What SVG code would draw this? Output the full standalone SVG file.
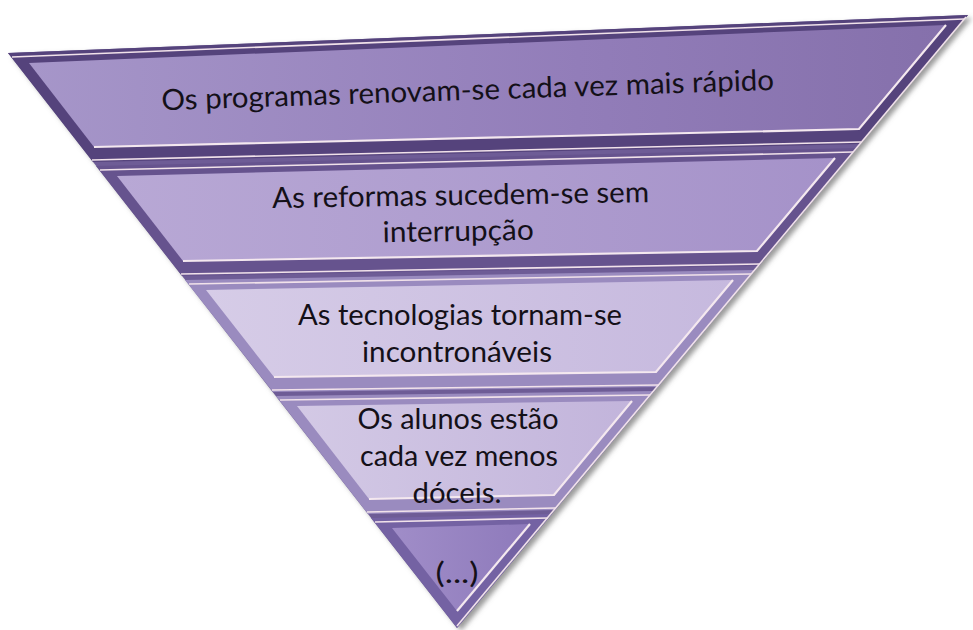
<svg xmlns="http://www.w3.org/2000/svg" width="973" height="630" viewBox="0 0 973 630">
<style>
  .lbl { font-family: Lato, "Open Sans", "Liberation Sans", sans-serif; font-size: 29px; fill: #141018; text-anchor: middle; }
  .hl { fill: none; stroke: #f4e8ef; stroke-width: 2.2; stroke-linejoin: miter; }
  .hlt { fill: none; stroke: #f1e2ea; stroke-width: 1.6; }
</style>
<defs>
  <filter id="shadow" x="-5%" y="-5%" width="115%" height="115%">
    <feDropShadow dx="4" dy="3" stdDeviation="2.5" flood-color="#6f6f6f" flood-opacity="0.7"/>
  </filter>
  <linearGradient id="f1" x1="0" y1="0" x2="1" y2="0">
    <stop offset="0" stop-color="#a696c9"/>
    <stop offset="0.6" stop-color="#927db9"/>
    <stop offset="1" stop-color="#8570ab"/>
  </linearGradient>
  <linearGradient id="f2" x1="0" y1="0" x2="1" y2="0">
    <stop offset="0" stop-color="#b8a8d5"/>
    <stop offset="1" stop-color="#a592c9"/>
  </linearGradient>
  <linearGradient id="f3" x1="0" y1="0" x2="1" y2="0">
    <stop offset="0" stop-color="#d6cce7"/>
    <stop offset="1" stop-color="#c6b9de"/>
  </linearGradient>
  <linearGradient id="f4" x1="0" y1="0" x2="1" y2="0">
    <stop offset="0" stop-color="#d3c9e5"/>
    <stop offset="1" stop-color="#c2b4db"/>
  </linearGradient>
  <linearGradient id="f5" x1="0" y1="0" x2="1" y2="0">
    <stop offset="0" stop-color="#a08dc8"/>
    <stop offset="1" stop-color="#8e7abb"/>
  </linearGradient>
</defs>

<g id="pyramid-base" filter="url(#shadow)">
  <polygon points="8,53 968,15 457,628" fill="#6e5c96"/>
</g>

<g id="band1">
  <polygon points="8,53 968,15 860,144 93,162" fill="#55437c"/>
  <polyline class="hlt" points="12,57 964,19"/>
  <polygon points="29,63 946,25 859,129 94,147" fill="url(#f1)"/>
  <polyline class="hl" points="94,147 859,129 946,25"/>
  <polyline class="hlt" points="92,160 861,142"/>
  <text class="lbl" x="468" y="100" textLength="613" lengthAdjust="spacingAndGlyphs" transform="rotate(-1.9 468 100)">Os programas renovam-se cada vez mais rápido</text>
</g>

<g id="band2">
  <polygon points="96,166 857,148 759,266 182,276" fill="#66538e"/>
  <polyline class="hlt" points="100,170 853,152"/>
  <polygon points="117,176 835,158 757,251 183,261" fill="url(#f2)"/>
  <polyline class="hl" points="183,261 757,251 835,158"/>
  <polyline class="hlt" points="181,274 760,264"/>
  <g transform="rotate(-0.9 461 222)">
    <text class="lbl" x="461" y="205" textLength="377" lengthAdjust="spacingAndGlyphs">As reformas sucedem-se sem</text>
    <text class="lbl" x="458" y="241" textLength="151" lengthAdjust="spacingAndGlyphs">interrupção</text>
  </g>
</g>

<g id="band3">
  <polygon points="185,280 755,270 658,387 273,392" fill="#9a8bbf"/>
  <polyline class="hlt" points="189,284 751,274"/>
  <polygon points="206,290 733,280 656,372 274,377" fill="url(#f3)"/>
  <polyline class="hl" points="274,377 656,372 733,280"/>
  <polyline class="hlt" points="272,390 659,385"/>
  <text class="lbl" x="460" y="325" textLength="324" lengthAdjust="spacingAndGlyphs">As tecnologias tornam-se</text>
  <text class="lbl" x="457" y="362" textLength="190" lengthAdjust="spacingAndGlyphs">incontronáveis</text>
</g>

<g id="band4">
  <polygon points="276,396 654,391 555,510 368,514" fill="#9a8bbf"/>
  <polyline class="hlt" points="280,400 650,395"/>
  <polygon points="297,406 632,401 554,495 369,499" fill="url(#f4)"/>
  <polyline class="hl" points="369,499 554,495 632,401"/>
  <polyline class="hlt" points="367,512 556,508"/>
  <text class="lbl" x="458" y="429" textLength="201" lengthAdjust="spacingAndGlyphs">Os alunos estão</text>
  <text class="lbl" x="459" y="466" textLength="198" lengthAdjust="spacingAndGlyphs">cada vez menos</text>
  <text class="lbl" x="457" y="503" textLength="89" lengthAdjust="spacingAndGlyphs">dóceis.</text>
</g>

<g id="band5">
  <polygon points="371,518 552,514 457,628" fill="#7462a3"/>
  <polyline class="hlt" points="375,522 548,518"/>
  <polygon points="392,528 530,524 457,611" fill="url(#f5)"/>
  <polyline class="hl" points="457,611 530,524"/>
  <text class="lbl" x="457" y="583" textLength="43" lengthAdjust="spacingAndGlyphs">(...)</text>
</g>

<g id="edge-highlight">
  <polyline class="hlt" points="966,17 457,626"/>
</g>
</svg>
